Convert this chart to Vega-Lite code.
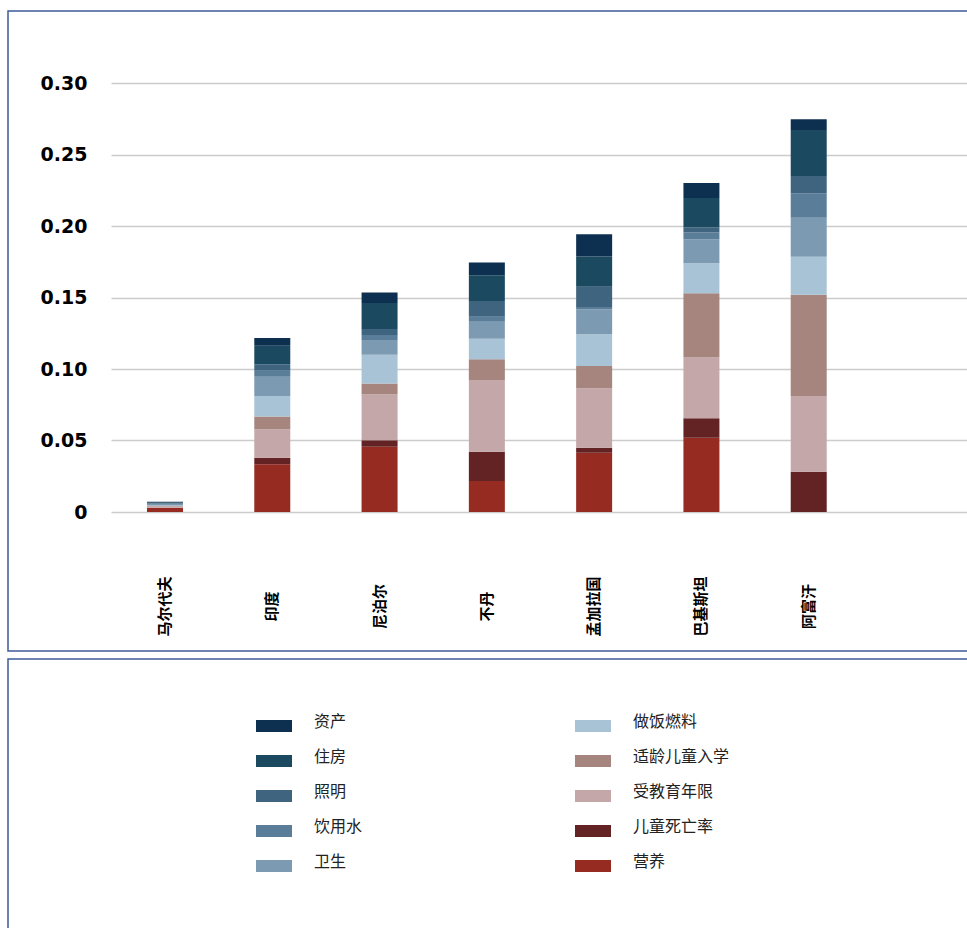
{
  "$schema": "https://vega.github.io/schema/vega-lite/v6.json",
  "background": "white",
  "padding": {"left": 7, "top": 10, "right": 0, "bottom": 0},
  "spacing": 0,
  "config": {
    "view": {"stroke": "#3d5a99", "strokeWidth": 1.5},
    "font": "Noto Sans CJK SC"
  },
  "vconcat": [
    {
      "width": 962,
      "height": 640,
      "data": {
        "values": [
          {"country": "马尔代夫", "component": "营养", "rank": 1, "value": 0.0028},
          {"country": "马尔代夫", "component": "儿童死亡率", "rank": 2, "value": 0.0002},
          {"country": "马尔代夫", "component": "受教育年限", "rank": 3, "value": 0.0008},
          {"country": "马尔代夫", "component": "适龄儿童入学", "rank": 4, "value": 0.0004},
          {"country": "马尔代夫", "component": "做饭燃料", "rank": 5, "value": 0.0003},
          {"country": "马尔代夫", "component": "卫生", "rank": 6, "value": 0.0005},
          {"country": "马尔代夫", "component": "饮用水", "rank": 7, "value": 0.0007},
          {"country": "马尔代夫", "component": "照明", "rank": 8, "value": 0.0005},
          {"country": "马尔代夫", "component": "住房", "rank": 9, "value": 0.0006},
          {"country": "马尔代夫", "component": "资产", "rank": 10, "value": 0.0004},

          {"country": "印度", "component": "营养", "rank": 1, "value": 0.0334},
          {"country": "印度", "component": "儿童死亡率", "rank": 2, "value": 0.0046},
          {"country": "印度", "component": "受教育年限", "rank": 3, "value": 0.0199},
          {"country": "印度", "component": "适龄儿童入学", "rank": 4, "value": 0.0088},
          {"country": "印度", "component": "做饭燃料", "rank": 5, "value": 0.0145},
          {"country": "印度", "component": "卫生", "rank": 6, "value": 0.0133},
          {"country": "印度", "component": "饮用水", "rank": 7, "value": 0.0042},
          {"country": "印度", "component": "照明", "rank": 8, "value": 0.0047},
          {"country": "印度", "component": "住房", "rank": 9, "value": 0.0128},
          {"country": "印度", "component": "资产", "rank": 10, "value": 0.0054},

          {"country": "尼泊尔", "component": "营养", "rank": 1, "value": 0.0457},
          {"country": "尼泊尔", "component": "儿童死亡率", "rank": 2, "value": 0.0045},
          {"country": "尼泊尔", "component": "受教育年限", "rank": 3, "value": 0.0322},
          {"country": "尼泊尔", "component": "适龄儿童入学", "rank": 4, "value": 0.0074},
          {"country": "尼泊尔", "component": "做饭燃料", "rank": 5, "value": 0.0201},
          {"country": "尼泊尔", "component": "卫生", "rank": 6, "value": 0.0103},
          {"country": "尼泊尔", "component": "饮用水", "rank": 7, "value": 0.0035},
          {"country": "尼泊尔", "component": "照明", "rank": 8, "value": 0.0042},
          {"country": "尼泊尔", "component": "住房", "rank": 9, "value": 0.0182},
          {"country": "尼泊尔", "component": "资产", "rank": 10, "value": 0.0074},

          {"country": "不丹", "component": "营养", "rank": 1, "value": 0.0217},
          {"country": "不丹", "component": "儿童死亡率", "rank": 2, "value": 0.0205},
          {"country": "不丹", "component": "受教育年限", "rank": 3, "value": 0.0501},
          {"country": "不丹", "component": "适龄儿童入学", "rank": 4, "value": 0.0145},
          {"country": "不丹", "component": "做饭燃料", "rank": 5, "value": 0.0144},
          {"country": "不丹", "component": "卫生", "rank": 6, "value": 0.0119},
          {"country": "不丹", "component": "饮用水", "rank": 7, "value": 0.0035},
          {"country": "不丹", "component": "照明", "rank": 8, "value": 0.0110},
          {"country": "不丹", "component": "住房", "rank": 9, "value": 0.0180},
          {"country": "不丹", "component": "资产", "rank": 10, "value": 0.0088},

          {"country": "孟加拉国", "component": "营养", "rank": 1, "value": 0.0415},
          {"country": "孟加拉国", "component": "儿童死亡率", "rank": 2, "value": 0.0035},
          {"country": "孟加拉国", "component": "受教育年限", "rank": 3, "value": 0.0415},
          {"country": "孟加拉国", "component": "适龄儿童入学", "rank": 4, "value": 0.0156},
          {"country": "孟加拉国", "component": "做饭燃料", "rank": 5, "value": 0.0222},
          {"country": "孟加拉国", "component": "卫生", "rank": 6, "value": 0.0175},
          {"country": "孟加拉国", "component": "饮用水", "rank": 7, "value": 0.0016},
          {"country": "孟加拉国", "component": "照明", "rank": 8, "value": 0.0142},
          {"country": "孟加拉国", "component": "住房", "rank": 9, "value": 0.0210},
          {"country": "孟加拉国", "component": "资产", "rank": 10, "value": 0.0157},

          {"country": "巴基斯坦", "component": "营养", "rank": 1, "value": 0.0520},
          {"country": "巴基斯坦", "component": "儿童死亡率", "rank": 2, "value": 0.0136},
          {"country": "巴基斯坦", "component": "受教育年限", "rank": 3, "value": 0.0424},
          {"country": "巴基斯坦", "component": "适龄儿童入学", "rank": 4, "value": 0.0450},
          {"country": "巴基斯坦", "component": "做饭燃料", "rank": 5, "value": 0.0210},
          {"country": "巴基斯坦", "component": "卫生", "rank": 6, "value": 0.0168},
          {"country": "巴基斯坦", "component": "饮用水", "rank": 7, "value": 0.0046},
          {"country": "巴基斯坦", "component": "照明", "rank": 8, "value": 0.0035},
          {"country": "巴基斯坦", "component": "住房", "rank": 9, "value": 0.0206},
          {"country": "巴基斯坦", "component": "资产", "rank": 10, "value": 0.0105},

          {"country": "阿富汗", "component": "营养", "rank": 1, "value": 0},
          {"country": "阿富汗", "component": "儿童死亡率", "rank": 2, "value": 0.0282},
          {"country": "阿富汗", "component": "受教育年限", "rank": 3, "value": 0.0529},
          {"country": "阿富汗", "component": "适龄儿童入学", "rank": 4, "value": 0.0708},
          {"country": "阿富汗", "component": "做饭燃料", "rank": 5, "value": 0.0266},
          {"country": "阿富汗", "component": "卫生", "rank": 6, "value": 0.0273},
          {"country": "阿富汗", "component": "饮用水", "rank": 7, "value": 0.0171},
          {"country": "阿富汗", "component": "照明", "rank": 8, "value": 0.0121},
          {"country": "阿富汗", "component": "住房", "rank": 9, "value": 0.0322},
          {"country": "阿富汗", "component": "资产", "rank": 10, "value": 0.0075}
        ]
      },
      "mark": {"type": "bar"},
      "encoding": {
        "x": {
          "field": "country",
          "type": "nominal",
          "sort": null,
          "scale": {
            "domain": ["马尔代夫", "印度", "尼泊尔", "不丹", "孟加拉国", "巴基斯坦", "阿富汗", " "],
            "range": [103, 962],
            "paddingInner": 0.6645,
            "paddingOuter": 0.3355
          },
          "axis": {
            "title": null,
            "domain": false,
            "ticks": false,
            "tickSize": 0,
            "grid": false,
            "offset": -139,
            "labelAngle": -90,
            "labelAlign": "center",
            "labelBaseline": "middle",
            "labelPadding": 94,
            "labelFont": "Noto Sans CJK SC",
            "labelFontWeight": "bold",
            "labelFontSize": 15,
            "labelColor": "#000000"
          }
        },
        "y": {
          "field": "value",
          "type": "quantitative",
          "stack": "zero",
          "scale": {"domain": [0, 0.3], "range": [501, 72], "nice": false, "zero": true},
          "axis": {
            "title": null,
            "domain": false,
            "ticks": false,
            "tickSize": 0,
            "values": [0, 0.05, 0.1, 0.15, 0.2, 0.25, 0.3],
            "labelExpr": "datum.value == 0 ? '0' : format(datum.value, '.2f')",
            "offset": -103,
            "labelPadding": 24,
            "labelFont": "DejaVu Sans",
            "labelFontWeight": "bold",
            "labelFontSize": 19,
            "labelColor": "#000000",
            "gridColor": "#cccccc",
            "gridWidth": 1.5
          }
        },
        "order": {"field": "rank", "type": "quantitative", "sort": "ascending"},
        "color": {
          "field": "component",
          "type": "nominal",
          "scale": {
            "domain": ["资产", "住房", "照明", "饮用水", "卫生", "做饭燃料", "适龄儿童入学", "受教育年限", "儿童死亡率", "营养"],
            "range": ["#0d3050", "#1b4a60", "#3f6480", "#5a7d9a", "#7d9ab3", "#a8c3d6", "#a5857e", "#c4a7a9", "#632324", "#962b22"]
          },
          "legend": {
            "title": null,
            "orient": "none",
            "legendX": 248,
            "legendY": 693,
            "columns": 2,
            "gridAlign": "all",
            "columnPadding": 164,
            "rowPadding": 7,
            "symbolType": "M-1,-0.111H1V0.555H-1Z",
            "symbolSize": 1296,
            "symbolStrokeWidth": 0,
            "symbolOpacity": 1,
            "labelOffset": 22,
            "labelFont": "Noto Sans CJK SC",
            "labelFontSize": 16,
            "labelColor": "#222222"
          }
        }
      }
    },
    {
      "width": 962,
      "height": 275,
      "data": {"values": [{"t": ""}]},
      "mark": {"type": "text"},
      "encoding": {
        "x": {"datum": 0, "type": "quantitative", "axis": null},
        "y": {"datum": 0, "type": "quantitative", "axis": null},
        "text": {"field": "t", "type": "nominal"}
      }
    }
  ]
}
